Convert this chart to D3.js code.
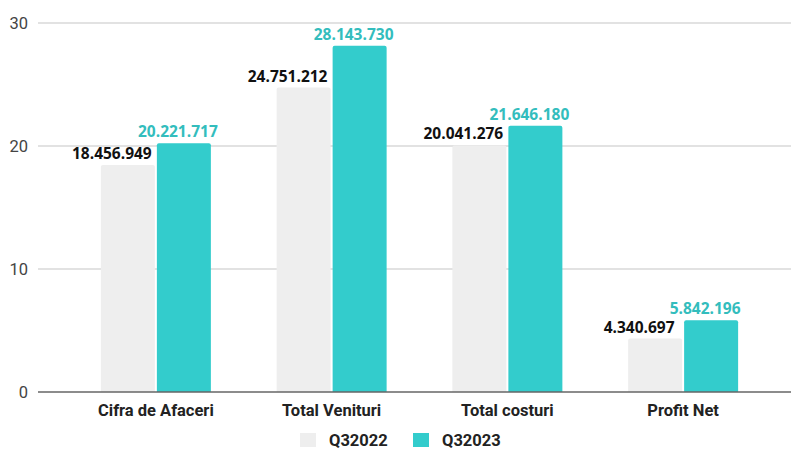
<!DOCTYPE html>
<html><head><meta charset="utf-8">
<script src="https://cdn.jsdelivr.net/npm/d3@7"></script>
<style>body{margin:0;background:#fff}</style>
</head><body>
<svg id="c" width="791" height="451"></svg>
<script>
const categories = ["Cifra de Afaceri","Total Venituri","Total costuri","Profit Net"];
const seriesNames = ["Q32022","Q32023"];
const q2022 = [18456949, 24751212, 20041276, 4340697];
const q2023 = [20221717, 28143730, 21646180, 5842196];
const yTicks = [0,10,20,30];
const colors = ["#eeeeee","#33cccc"];
const labelColors = ["#111111","#33bdbd"];

const svg = d3.select("#c");
const y = d3.scaleLinear().domain([0,30]).range([392,23]);
const x0 = d3.scaleBand().domain(categories).range([68,771]).paddingInner(0).paddingOuter(0);
const x1 = d3.scaleBand().domain(seriesNames).range([0,x0.bandwidth()]).paddingInner(0.0357).paddingOuter(0.587);

// gridlines
svg.append("g").selectAll("line").data(yTicks.filter(d=>d>0)).join("line")
  .attr("x1",38).attr("x2",791).attr("y1",d=>y(d)).attr("y2",d=>y(d))
  .attr("stroke","#d9d9d9").attr("stroke-width",1.5);
// y tick labels
svg.append("g").selectAll("text").data(yTicks).join("text")
  .attr("x",28).attr("y",d=>y(d)).attr("dy","0.35em").attr("text-anchor","end")
  .attr("font-family","Roboto").attr("font-size",16.5).attr("fill","#444").text(d=>d);

const data = categories.map((c,i)=>({cat:c, vals:[q2022[i],q2023[i]]}));
const groups = svg.append("g").selectAll("g").data(data).join("g")
  .attr("transform",d=>`translate(${x0(d.cat)},0)`);
groups.selectAll("path").data(d=>d.vals.map((v,j)=>({v:v/1e6,s:seriesNames[j],j,raw:v}))).join("path")
  .attr("fill",d=>colors[d.j])
  .attr("d",d=>{
    const bx=x1(d.s), w=x1.bandwidth(), top=y(d.v), bot=y(0), r=2;
    return `M${bx},${bot}V${top+r}Q${bx},${top} ${bx+r},${top}H${bx+w-r}Q${bx+w},${top} ${bx+w},${top+r}V${bot}Z`;
  });
const fmt = v => d3.format(",")(v).replace(/,/g,".");
groups.selectAll("text.lbl").data(d=>d.vals.map((v,j)=>({v:v/1e6,s:seriesNames[j],j,raw:v}))).join("text")
  .attr("class","lbl")
  .attr("x",d=>x1(d.s)+x1.bandwidth()/2+(d.j===0?-16:-6))
  .attr("y",d=>y(d.v)-6)
  .attr("text-anchor","middle")
  .attr("font-family","Open Sans").attr("font-weight","bold").attr("font-size",15.5)
  .attr("fill",d=>labelColors[d.j]).text(d=>fmt(d.raw));

// baseline
svg.append("line").attr("x1",38).attr("x2",791).attr("y1",y(0)).attr("y2",y(0))
  .attr("stroke","#666").attr("stroke-width",1.5);

// category labels
svg.append("g").selectAll("text").data(categories).join("text")
  .attr("x",d=>x0(d)+x0.bandwidth()/2).attr("y",416).attr("text-anchor","middle")
  .attr("font-family","Roboto").attr("font-weight","bold").attr("font-size",16.5)
  .attr("fill","#222").text(d=>d);

// legend
const legX = [300,413];
const leg = svg.append("g").selectAll("g").data(seriesNames).join("g")
  .attr("transform",(d,i)=>`translate(${legX[i]},433)`);
leg.append("rect").attr("width",16).attr("height",14).attr("fill",(d,i)=>colors[i]);
leg.append("text").attr("x",29).attr("y",7).attr("dy","0.36em")
  .attr("font-family","Roboto").attr("font-weight","bold").attr("font-size",16.5)
  .attr("fill","#222").text(d=>d);
</script>
</body></html>
